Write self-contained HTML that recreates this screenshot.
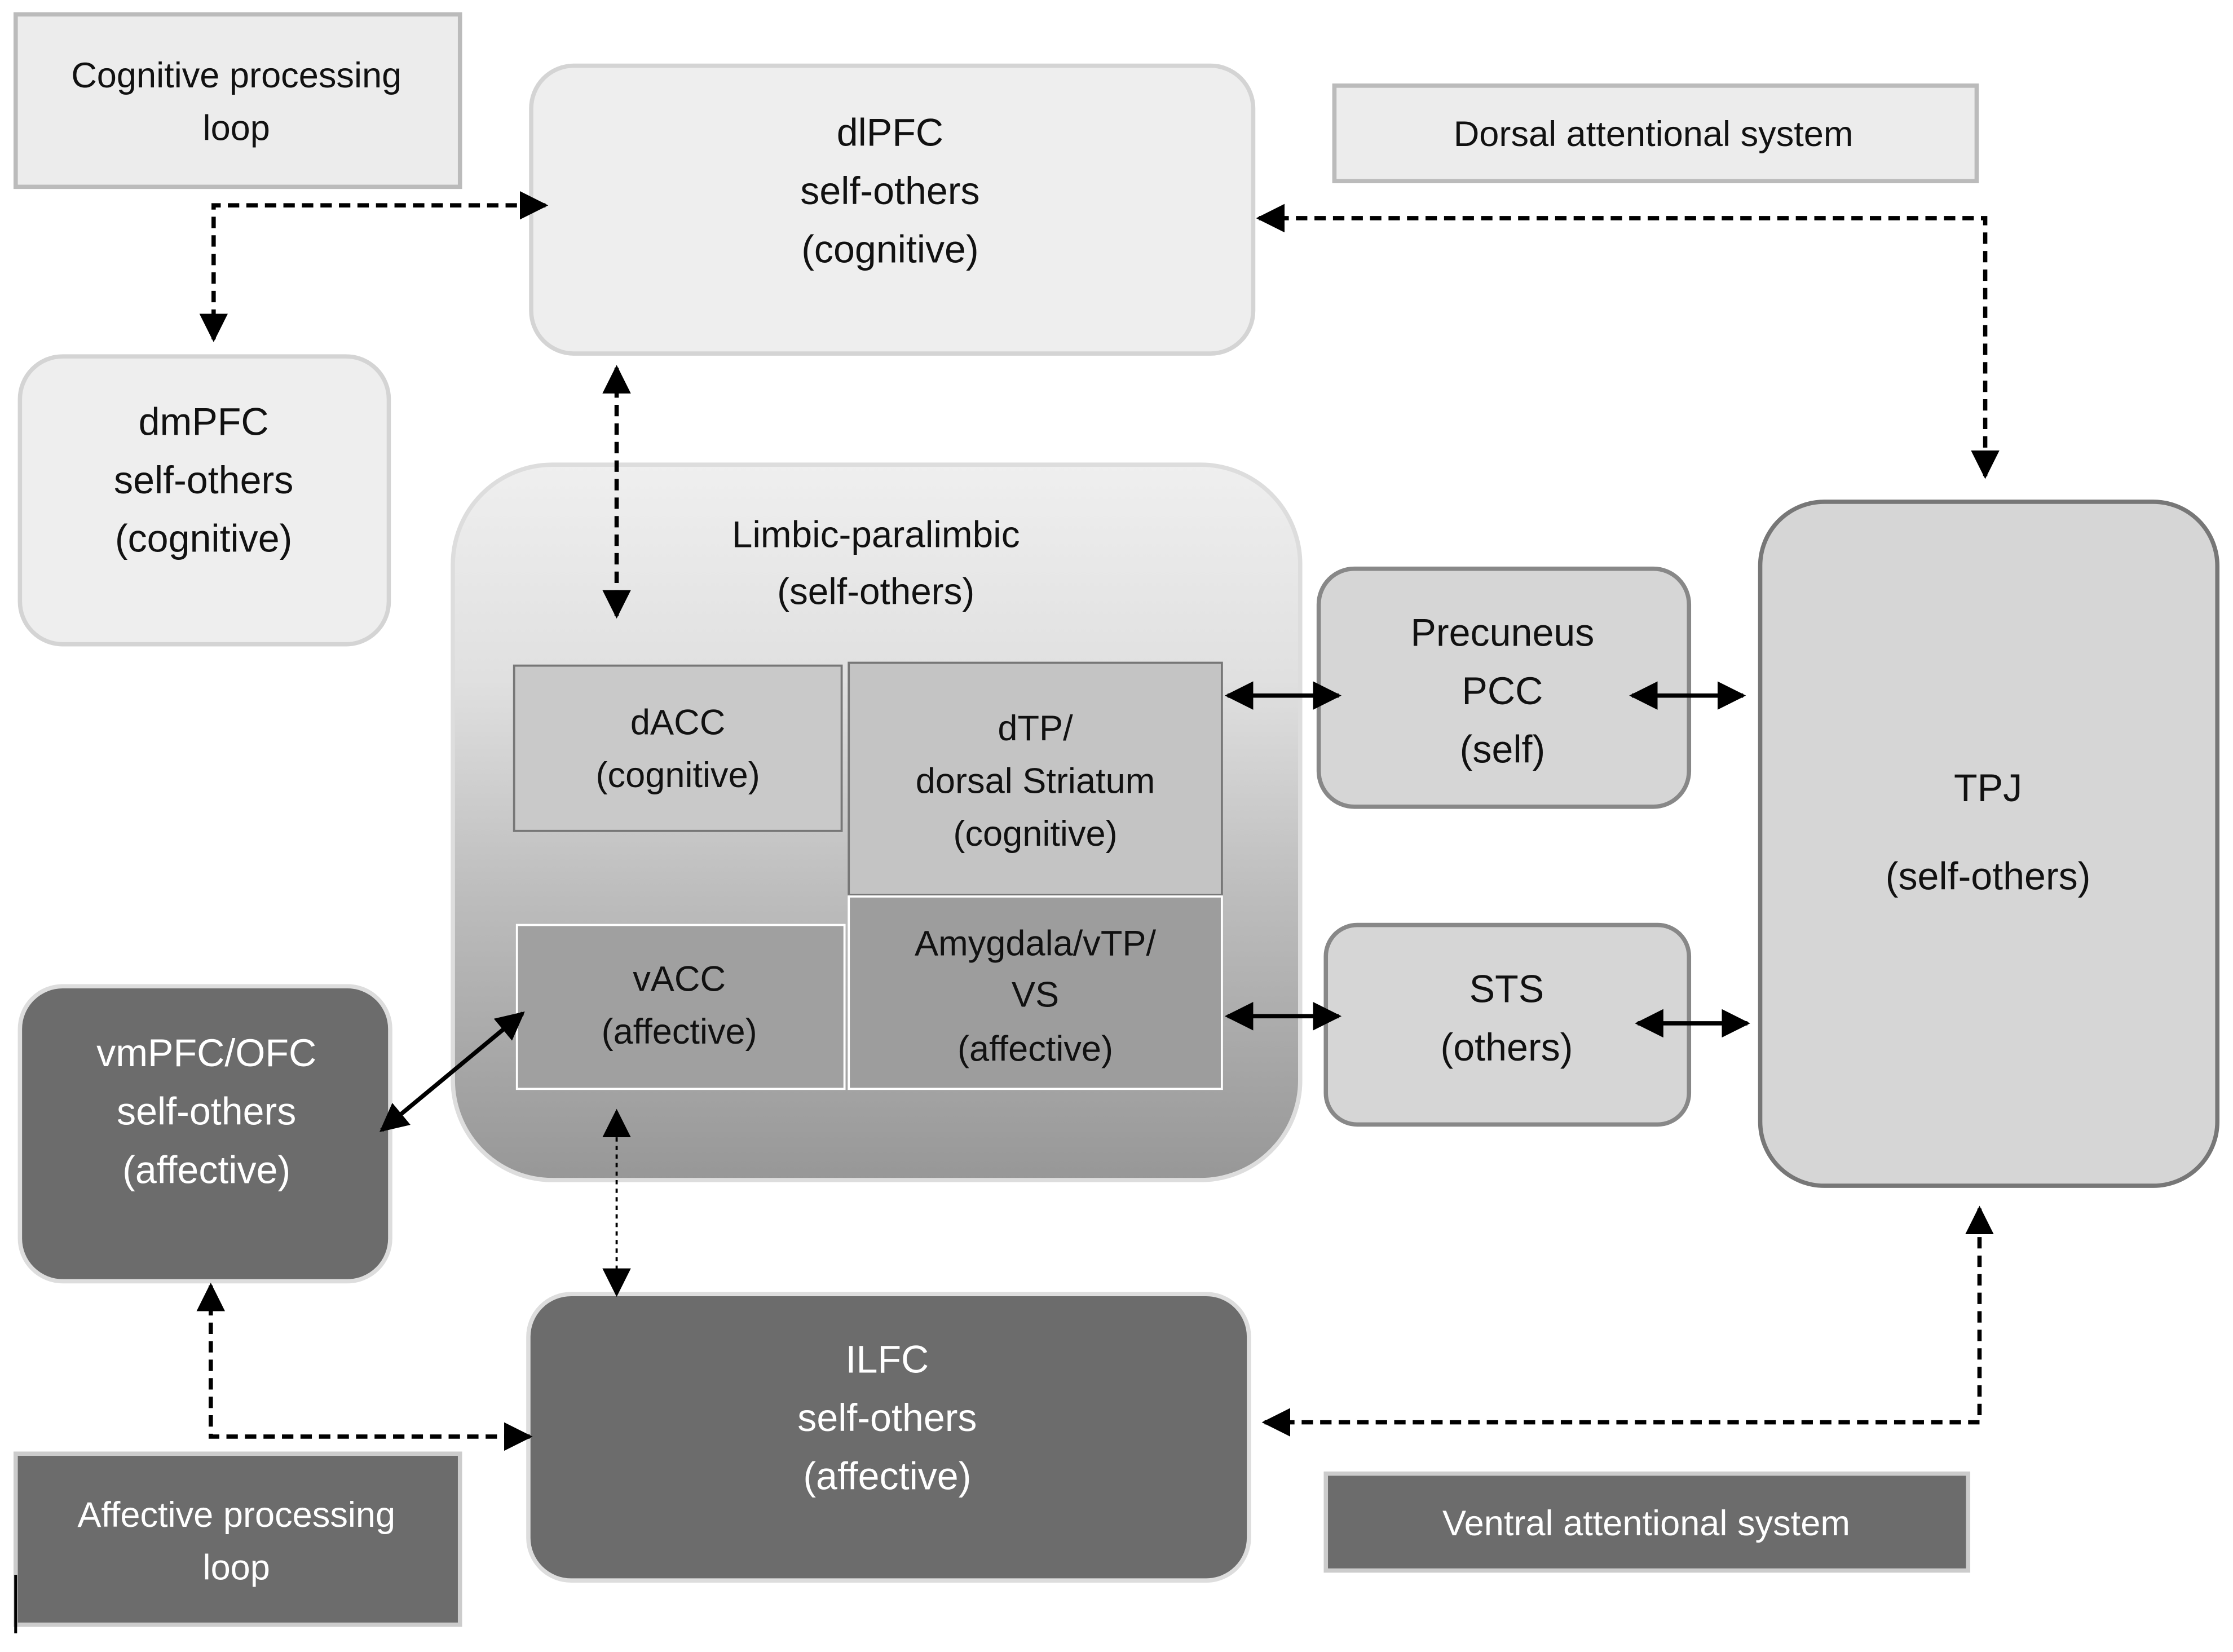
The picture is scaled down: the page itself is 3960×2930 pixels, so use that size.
<!DOCTYPE html>
<html><head><meta charset="utf-8"><style>html,body{margin:0;padding:0;background:#fff}svg{display:block}</style></head>
<body>
<svg width="3960" height="2930" viewBox="0 0 1568 1150" preserveAspectRatio="none" xmlns="http://www.w3.org/2000/svg" font-family="Liberation Sans, sans-serif">
<defs>
<linearGradient id="lg" x1="0" y1="0" x2="0" y2="1">
<stop offset="0" stop-color="#efefef"/><stop offset="0.3" stop-color="#e0e0e0"/><stop offset="0.6" stop-color="#bdbdbd"/><stop offset="1" stop-color="#979797"/></linearGradient>
<marker id="a" viewBox="0 0 10 10" refX="9" refY="5" markerWidth="20" markerHeight="20" orient="auto-start-reverse" markerUnits="userSpaceOnUse"><path d="M0,0L10,5L0,10z" fill="#000"/></marker>
</defs>
<g transform="translate(0,0.1) scale(1,0.992)">
<g stroke-width="3">
<rect x="11" y="10" width="312" height="121" fill="#ececec" stroke="#bbb"/>
<rect x="373" y="46" width="507" height="202" rx="30" fill="#eeeeee" stroke="#d4d4d4"/>
<rect x="937" y="60" width="451" height="67" fill="#ececec" stroke="#bbb"/>
<rect x="14" y="250" width="259" height="202" rx="30" fill="#eeeeee" stroke="#d4d4d4"/>
<rect x="318" y="326" width="595" height="502" rx="70" fill="url(#lg)" stroke="#ddd"/>
<rect x="361" y="467" width="230" height="116" fill="#c9c9c9" stroke="#777" stroke-width="1.5"/>
<rect x="596" y="465" width="262" height="163" fill="#c4c4c4" stroke="#777" stroke-width="1.5"/>
<rect x="363" y="649" width="230" height="115" fill="#a0a0a0" stroke="#fff" stroke-width="1.5"/>
<rect x="596" y="629" width="262" height="135" fill="#9d9d9d" stroke="#fff" stroke-width="1.5"/>
<rect x="926" y="399" width="260" height="167" rx="25" fill="#d6d6d6" stroke="#888"/>
<rect x="931" y="649" width="255" height="140" rx="22" fill="#d6d6d6" stroke="#888"/>
<rect x="1236" y="352" width="321" height="480" rx="45" fill="#d6d6d6" stroke="#777"/>
<rect x="14" y="692" width="260" height="207" rx="30" fill="#6c6c6c" stroke="#ddd"/>
<rect x="371" y="908" width="506" height="201" rx="30" fill="#6c6c6c" stroke="#ddd"/>
<rect x="11" y="1020" width="312" height="120" fill="#6c6c6c" stroke="#ccc"/>
<rect x="931" y="1034" width="451" height="68" fill="#6c6c6c" stroke="#ccc"/>
</g>
<line x1="11" y1="1105" x2="11" y2="1146" stroke="#000" stroke-width="2"/>
<g fill="none" stroke="#000" stroke-width="3" stroke-dasharray="8,5">
<path d="M150,238V144H383" marker-start="url(#a)" marker-end="url(#a)"/>
<path d="M884,153H1394V334" marker-start="url(#a)" marker-end="url(#a)"/>
<path d="M433,258V432" marker-start="url(#a)" marker-end="url(#a)"/>
<path d="M148,902V1008H372" marker-start="url(#a)" marker-end="url(#a)"/>
<path d="M888,998H1390V848" marker-start="url(#a)" marker-end="url(#a)"/>
<path d="M433,780V908" stroke-width="1.5" stroke-dasharray="3,3" marker-start="url(#a)" marker-end="url(#a)"/>
</g>
<g fill="none" stroke="#000" stroke-width="3">
<path d="M268,793L367,711" marker-start="url(#a)" marker-end="url(#a)"/>
<path d="M862,488H940" marker-start="url(#a)" marker-end="url(#a)"/>
<path d="M1146,488H1224" marker-start="url(#a)" marker-end="url(#a)"/>
<path d="M862,713H940" marker-start="url(#a)" marker-end="url(#a)"/>
<path d="M1150,718H1227" marker-start="url(#a)" marker-end="url(#a)"/>
</g>
<g text-anchor="middle" dominant-baseline="central" font-size="25" fill="#111">
<text x="166" y="53">Cognitive processing</text><text x="166" y="90">loop</text>
<text x="625" y="93" font-size="27">dlPFC</text><text x="625" y="134" font-size="27">self-others</text><text x="625" y="175" font-size="27">(cognitive)</text>
<text x="1161" y="94">Dorsal attentional system</text>
<text x="143" y="296" font-size="27">dmPFC</text><text x="143" y="337" font-size="27">self-others</text><text x="143" y="378" font-size="27">(cognitive)</text>
<text x="615" y="375" font-size="26">Limbic-paralimbic</text><text x="615" y="415" font-size="26">(self-others)</text>
<text x="476" y="507">dACC</text><text x="476" y="544">(cognitive)</text>
<text x="727" y="511">dTP/</text><text x="727" y="548">dorsal Striatum</text><text x="727" y="585">(cognitive)</text>
<text x="477" y="687">vACC</text><text x="477" y="724">(affective)</text>
<text x="727" y="662">Amygdala/vTP/</text><text x="727" y="698">VS</text><text x="727" y="736">(affective)</text>
<text x="1055" y="444" font-size="27">Precuneus</text><text x="1055" y="485" font-size="27">PCC</text><text x="1055" y="526" font-size="27">(self)</text>
<text x="1058" y="694" font-size="27">STS</text><text x="1058" y="735" font-size="27">(others)</text>
<text x="1396" y="553" font-size="27">TPJ</text><text x="1396" y="615" font-size="27">(self-others)</text>
</g>
<g text-anchor="middle" dominant-baseline="central" font-size="27" fill="#fff">
<text x="145" y="739">vmPFC/OFC</text><text x="145" y="780">self-others</text><text x="145" y="821">(affective)</text>
<text x="623" y="954">ILFC</text><text x="623" y="995">self-others</text><text x="623" y="1036">(affective)</text>
<text x="166" y="1063" font-size="25">Affective processing</text><text x="166" y="1100" font-size="25">loop</text>
<text x="1156" y="1069" font-size="25">Ventral attentional system</text>
</g>
</g>
</svg>
</body></html>
